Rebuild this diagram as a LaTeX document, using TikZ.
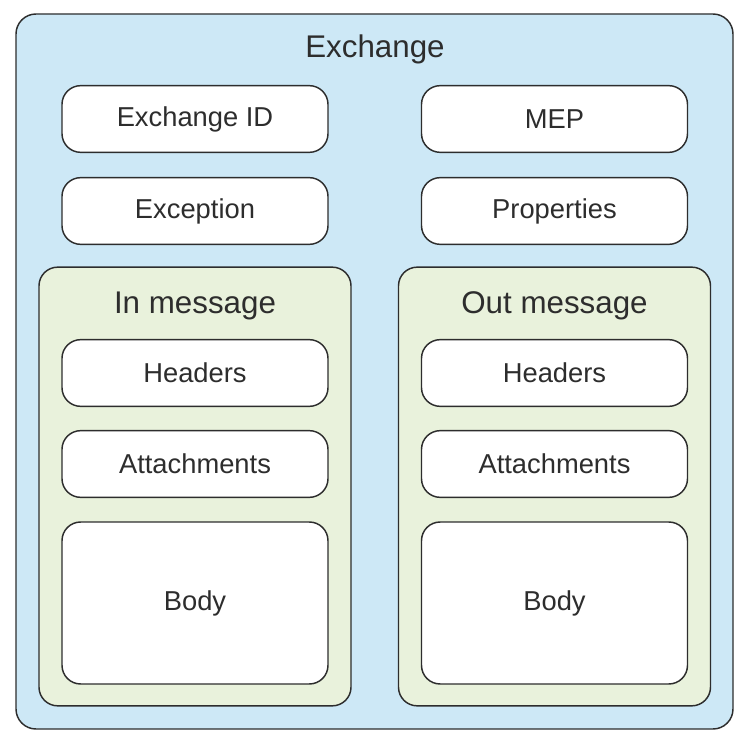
\documentclass[tikz,border=0pt]{standalone}
\usepackage{fontspec}
\setmainfont{Liberation Sans}
\definecolor{xblue}{RGB}{205,232,246}
\definecolor{xgreen}{RGB}{233,242,220}
\definecolor{xline}{RGB}{45,45,45}
\tikzset{
  field/.style={draw=xline, line width=1.1pt, fill=white, rounded corners=14pt,
    minimum width=199.5pt, minimum height=50pt, font=\fontsize{20.5}{22}\selectfont, text=xline},
  msgbox/.style={draw=xline, line width=1.1pt, fill=xgreen, rounded corners=14pt,
    minimum width=234pt, minimum height=329pt},
  title/.style={font=\fontsize{23.5}{26}\selectfont, text=xline}
}
\begin{document}
\begin{tikzpicture}[x=0.75pt,y=-0.75pt]
    \useasboundingbox (0,0) rectangle (747,738);
    \node[draw=xline, line width=1.1pt, fill=xblue, rounded corners=15pt,
      minimum width=537.75pt, minimum height=536.25pt] (exchange) at (374.5,371.5) {};
    \node[title] (xtitle) at (375,49) {Exchange};
    \node[field] (xid) at (195,119) {Exchange ID};
    \node[field] (mep) at (554.5,119) {MEP};
    \node[field] (exc) at (195,211) {Exception};
    \node[field] (prop) at (554.5,211) {Properties};
    % messages
    \node[msgbox] (in) at (195,486.5) {};
    \node[msgbox] (out) at (554.5,486.5) {};
    \node[title] (intitle) at (195,306) {In message};
    \node[title] (outtitle) at (554.5,306) {Out message};
    \node[field] (inhead) at (195,373) {Headers};
    \node[field] (inatt) at (195,464) {Attachments};
    \node[field, minimum height=121.5pt] (inbody) at (195,603) {Body};
    \node[field] (outhead) at (554.5,373) {Headers};
    \node[field] (outatt) at (554.5,464) {Attachments};
    \node[field, minimum height=121.5pt] (outbody) at (554.5,603) {Body};
\end{tikzpicture}
\end{document}
